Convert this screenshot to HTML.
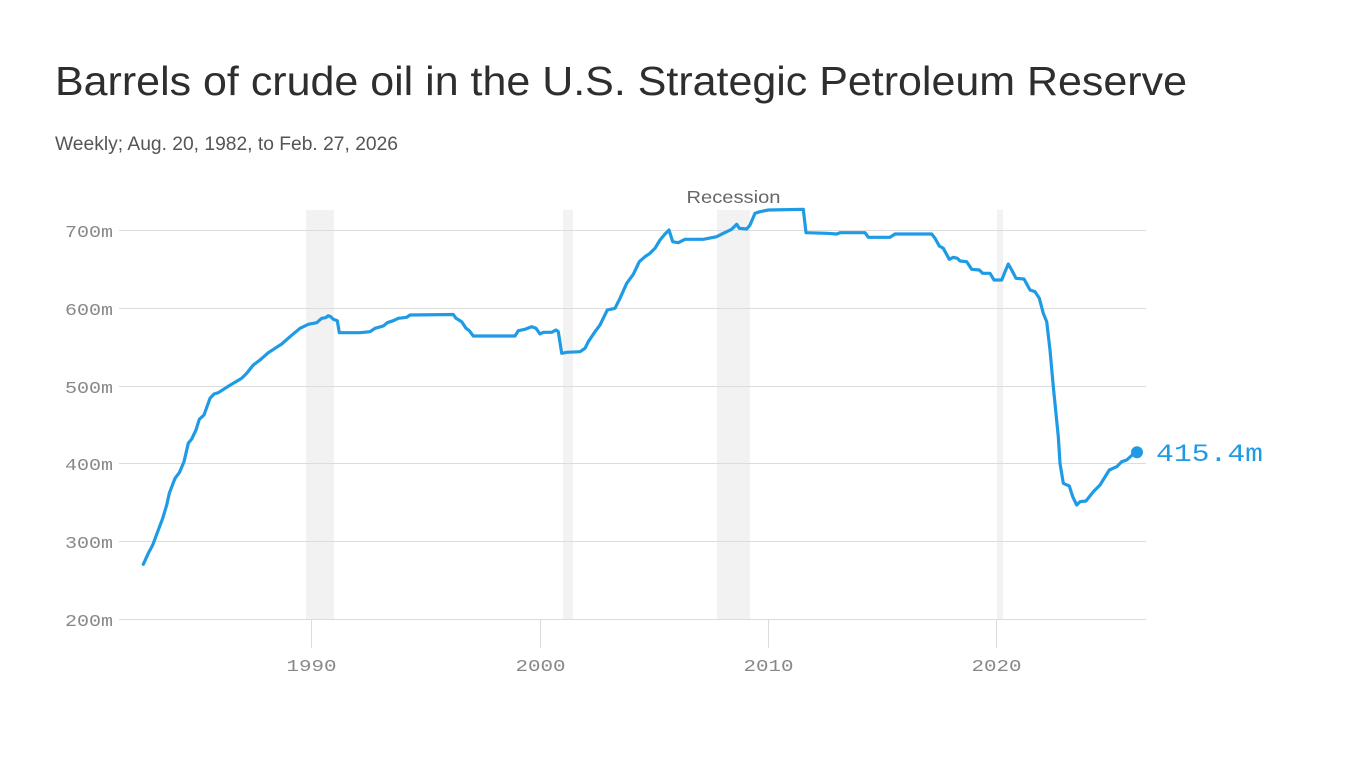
<!DOCTYPE html>
<html>
<head>
<meta charset="utf-8">
<style>
  html,body{margin:0;padding:0;background:#fff;}
  svg{display:block;}
</style>
</head>
<body>
<svg width="1366" height="768" viewBox="0 0 1366 768" xmlns="http://www.w3.org/2000/svg">
  <rect width="1366" height="768" fill="#fff"/>
  <!-- Title -->
  <text x="55" y="95" font-family="Liberation Sans, sans-serif" font-size="41" fill="#2e2e2e" textLength="1132" lengthAdjust="spacingAndGlyphs">Barrels of crude oil in the U.S. Strategic Petroleum Reserve</text>
  <text x="55" y="150" font-family="Liberation Sans, sans-serif" font-size="19" fill="#555" textLength="343" lengthAdjust="spacingAndGlyphs">Weekly; Aug. 20, 1982, to Feb. 27, 2026</text>

  <!-- Recession bands -->
  <g fill="#f2f2f2">
    <rect x="306" y="210" width="28" height="409"/>
    <rect x="563" y="210" width="10" height="409"/>
    <rect x="717" y="210" width="33" height="409"/>
    <rect x="997" y="210" width="6" height="409"/>
  </g>
  <text x="733.5" y="203" text-anchor="middle" font-family="Liberation Sans, sans-serif" font-size="17.5" fill="#666" textLength="94" lengthAdjust="spacingAndGlyphs">Recession</text>

  <!-- Gridlines -->
  <g stroke="#dcdcdc" stroke-width="1">
    <line x1="119" y1="230.5" x2="1146" y2="230.5"/>
    <line x1="119" y1="308.5" x2="1146" y2="308.5"/>
    <line x1="119" y1="386.5" x2="1146" y2="386.5"/>
    <line x1="119" y1="463.5" x2="1146" y2="463.5"/>
    <line x1="119" y1="541.5" x2="1146" y2="541.5"/>
    <line x1="119" y1="619.5" x2="1146" y2="619.5"/>
    <line x1="311.5" y1="619" x2="311.5" y2="648"/>
    <line x1="540.5" y1="619" x2="540.5" y2="648"/>
    <line x1="768.5" y1="619" x2="768.5" y2="648"/>
    <line x1="996.5" y1="619" x2="996.5" y2="648"/>
  </g>

  <!-- Y labels -->
  <g font-family="Liberation Mono, monospace" font-size="17" fill="#888" text-anchor="end">
    <text x="113" y="237" textLength="48" lengthAdjust="spacingAndGlyphs">700m</text>
    <text x="113" y="315" textLength="48" lengthAdjust="spacingAndGlyphs">600m</text>
    <text x="113" y="393" textLength="48" lengthAdjust="spacingAndGlyphs">500m</text>
    <text x="113" y="470" textLength="48" lengthAdjust="spacingAndGlyphs">400m</text>
    <text x="113" y="548" textLength="48" lengthAdjust="spacingAndGlyphs">300m</text>
    <text x="113" y="626" textLength="48" lengthAdjust="spacingAndGlyphs">200m</text>
  </g>

  <!-- X labels -->
  <g font-family="Liberation Mono, monospace" font-size="17" fill="#888" text-anchor="middle">
    <text x="311.5" y="671" textLength="50" lengthAdjust="spacingAndGlyphs">1990</text>
    <text x="540.5" y="671" textLength="50" lengthAdjust="spacingAndGlyphs">2000</text>
    <text x="768.5" y="671" textLength="50" lengthAdjust="spacingAndGlyphs">2010</text>
    <text x="996.5" y="671" textLength="50" lengthAdjust="spacingAndGlyphs">2020</text>
  </g>

  <!-- Series -->
  <polyline fill="none" stroke="#1f9be6" stroke-width="3.2" stroke-linejoin="round" stroke-linecap="round"
    points="143.3,564.3 148.3,553.3 152.7,545 158.3,530 162.7,518.3 166.7,505 169.3,493.3 175,478.3 179.3,472.7 184,461.7 188.3,443.3 191.7,439 196,430 199.3,419.3 204,415 210,398.3 214,394 218.3,392.7 226.7,387.3 233.3,383.3 241.7,378.3 246.7,373.3 253.3,365 260,360 268.3,352.7 275,348.3 281.7,344 290,336.7 300,328.3 308.3,324.3 316.7,322.7 321.7,318.3 325.7,317.7 328.3,315.7 330.7,316.7 333.3,319.3 337.3,320.7 339.3,332.7 360,332.7 370,331.7 375,328.3 383.3,326 387.3,322.7 393.3,320.7 398.3,318.3 406.7,317.3 410,315 453.3,314.5 456,318.3 461.7,321.7 466,328.3 469.3,330.7 473.3,336 515,336 518.3,330.7 525,329.3 531.7,326.7 536,328.3 540,334 543.3,332.3 551.7,332.3 556,330 558.3,331.7 561.7,353.3 566.7,352.3 580,351.7 585,348.3 588.3,341.7 595,331.7 600,325 607.3,310 615,308.3 620,298.3 626.7,283.3 633.3,274.3 639.3,261.7 645,256.7 650,253.3 655,248.3 660,240 665,234 669,230 672.7,241.7 678.3,242.7 685,239.3 703.3,239.3 711.7,237.7 716.7,236.7 723.3,233.3 731.7,229.3 736.7,224.3 739.3,228.3 746.7,229 750,225 755,213.3 760,211.7 768.3,210 803.3,209.3 806,232.7 826.7,233.3 836.7,234 840,232.7 865,232.7 868.3,237.3 890,237.3 895,234 931.7,234 935,238.3 939.3,246 943.3,248.3 949.3,259.3 953.3,257.3 957.3,258.3 960,261 966.7,261.7 971.7,269.3 979.3,270 982.7,273.3 990,273.3 994,280 1001.7,280 1005,271.7 1008.3,264 1011.7,270 1016,278.3 1024,279 1030,290 1035,291.7 1039.3,298.3 1043.3,313.3 1046.7,321.7 1050,350 1053.3,386.7 1058.3,436.7 1060,463.3 1063.3,483.3 1069.3,486 1072.7,496.7 1076.7,505 1080,501.7 1086,501 1093.3,491.7 1100,485 1109.3,470 1116.7,466.7 1121.7,461.7 1126.7,460 1133.3,454 1136.7,452.3"/>
  <circle cx="1137" cy="452.3" r="6" fill="#1f9be6"/>
  <text x="1156" y="461" font-family="Liberation Mono, monospace" font-size="25" fill="#1f9be6" textLength="107" lengthAdjust="spacingAndGlyphs">415.4m</text>
</svg>
</body>
</html>
